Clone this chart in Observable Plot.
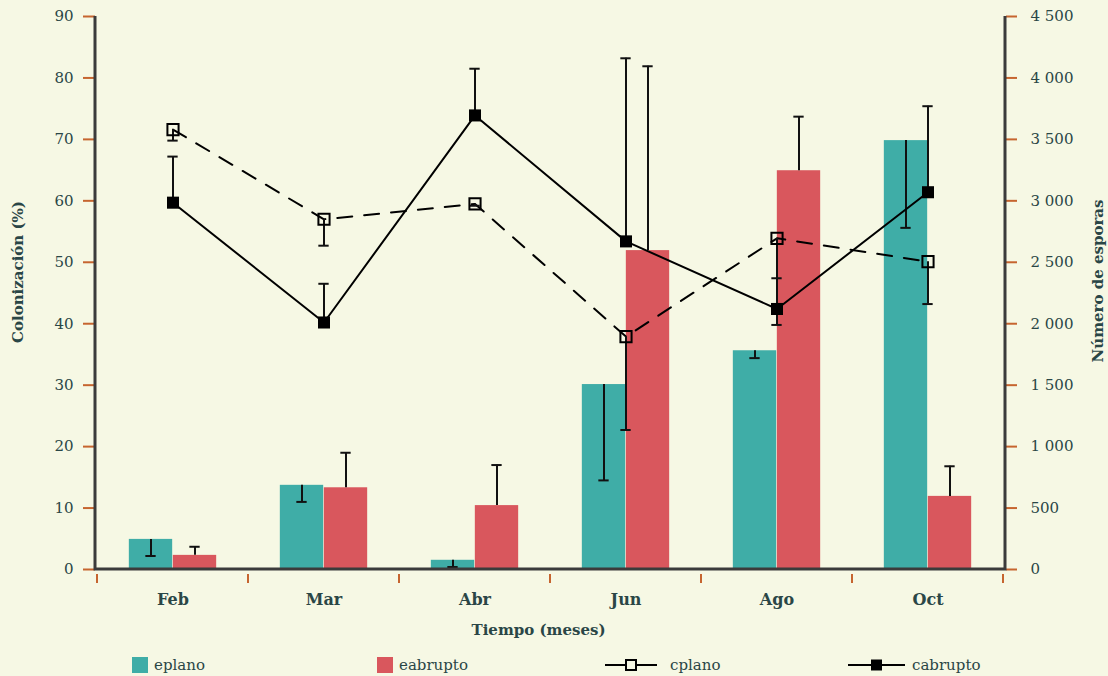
<!DOCTYPE html>
<html>
<head>
<meta charset="utf-8">
<script src="https://cdn.jsdelivr.net/npm/d3@7"></script>
<script src="https://cdn.jsdelivr.net/npm/@observablehq/plot@0.6"></script>
<style>
  html, body { margin: 0; padding: 0; background: #f6f8e4; }
  body { width: 1108px; height: 676px; overflow: hidden; font-family: "DejaVu Serif", serif; color: #2a4646; }
  #chart svg { display: block; }
  #legend { position: relative; height: 31px; font-size: 15px; color: #2a4646; }
  #legend .item { position: absolute; top: 9px; display: flex; align-items: center; height: 22px; }
  #legend .sw { width: 16px; height: 16px; margin-right: 6px; }
</style>
</head>
<body>
<div id="chart"></div>
<div id="legend"></div>
<script>
// ---- data ----
const months = ["Feb", "Mar", "Abr", "Jun", "Ago", "Oct"];
// Número de esporas (right axis)
const eplano      = [245, 685, 75, 1505, 1780, 3490];
const eplanoErr   = [135, 135, 55, 780, 60, 710];
const eabrupto    = [115, 665, 520, 2595, 3245, 595];
const eabruptoErr = [70, 285, 330, 1500, 440, 245];
// Colonización % (left axis)
const cplano      = [71.6, 57.0, 59.5, 37.9, 53.9, 50.1];
const cplanoErr   = [1.8, 4.3, 0.3, 15.2, 14.1, 6.9];
const cabrupto    = [59.7, 40.2, 73.9, 53.4, 42.4, 61.4];
const cabruptoErr = [7.5, 6.3, 7.6, 29.8, 5.0, 14.0];
// axes
const leftTicks = [0, 10, 20, 30, 40, 50, 60, 70, 80, 90];
const rightTicks = [0, 500, 1000, 1500, 2000, 2500, 3000, 3500, 4000, 4500];
const rightTickLabels = ["0", "500", "1 000", "1 500", "2 000", "2 500", "3 000", "3 500", "4 000", "4 500"];
const seriesNames = ["eplano", "eabrupto", "cplano", "cabrupto"];

// ---- build ----
const ratio = rightTicks[rightTicks.length - 1] / leftTicks[leftTicks.length - 1];
const rows = months.map((m, i) => ({
  month: m,
  eplano: eplano[i], eplanoErr: eplanoErr[i],
  eabrupto: eabrupto[i], eabruptoErr: eabruptoErr[i],
  cplano: cplano[i], cplanoErr: cplanoErr[i],
  cabrupto: cabrupto[i], cabruptoErr: cabruptoErr[i]
}));

const W = 1108, H = 645, mL = 95, mR = 103, mT = 16, mB = 76;
const bw = (W - mL - mR) / months.length;
const barW = 44, capW = 11;
const teal = "#3fada7", red = "#d9575d", orange = "#c6652f", axisCol = "#3b3b3b", ink = "#111111", txt = "#2a4646";
const font = "DejaVu Serif, serif";

function frameLines(index, scales, values, dims) {
  const g = d3.create("svg:g");
  const x0 = dims.marginLeft, x1 = dims.width - dims.marginRight;
  const y0 = dims.marginTop, y1 = dims.height - dims.marginBottom;
  // bottom boundary ticks
  const xs = months.map(m => scales.x(m)).concat([scales.x(months[months.length - 1]) + scales.x.bandwidth()]);
  g.selectAll("line.bt").data(xs).join("line")
    .attr("x1", d => d).attr("x2", d => d)
    .attr("y1", y1 + 5).attr("y2", y1 + 14)
    .attr("stroke", orange).attr("stroke-width", 2);
  g.append("path")
    .attr("d", `M${x0},${y0}V${y1}H${x1}V${y0}`)
    .attr("fill", "none").attr("stroke", axisCol).attr("stroke-width", 3);
  return g.node();
}

const chart = Plot.plot({
  width: W, height: H,
  marginLeft: mL, marginRight: mR, marginTop: mT, marginBottom: mB,
  style: { background: "transparent", fontFamily: font, fontSize: "15px", color: txt, overflow: "visible" },
  x: { type: "band", domain: months, padding: 0, axis: null },
  y: { domain: [0, 90], axis: null },
  marks: [
    // bars (esporas)
    Plot.barY(rows, { x: "month", y: d => d.eplano / ratio, fill: teal, insetLeft: bw / 2 - barW, insetRight: bw / 2 }),
    Plot.barY(rows, { x: "month", y: d => d.eabrupto / ratio, fill: red, insetLeft: bw / 2, insetRight: bw / 2 - barW }),
    // bar error bars
    Plot.ruleX(rows, { x: "month", y1: d => d.eplano / ratio, y2: d => (d.eplano - d.eplanoErr) / ratio, dx: -barW / 2, stroke: ink, strokeWidth: 2 }),
    Plot.tickY(rows, { x: "month", y: d => (d.eplano - d.eplanoErr) / ratio, dx: -barW / 2, insetLeft: bw / 2 - capW / 2, insetRight: bw / 2 - capW / 2, stroke: ink, strokeWidth: 2 }),
    Plot.ruleX(rows, { x: "month", y1: d => d.eabrupto / ratio, y2: d => (d.eabrupto + d.eabruptoErr) / ratio, dx: barW / 2, stroke: ink, strokeWidth: 2 }),
    Plot.tickY(rows, { x: "month", y: d => (d.eabrupto + d.eabruptoErr) / ratio, dx: barW / 2, insetLeft: bw / 2 - capW / 2, insetRight: bw / 2 - capW / 2, stroke: ink, strokeWidth: 2 }),
    // lines (colonización)
    Plot.line(rows, { x: "month", y: "cplano", stroke: "#000", strokeWidth: 2, strokeDasharray: "15,12" }),
    Plot.line(rows, { x: "month", y: "cabrupto", stroke: "#000", strokeWidth: 2 }),
    // line error bars
    Plot.ruleX(rows, { x: "month", y1: "cplano", y2: d => d.cplano - d.cplanoErr, stroke: ink, strokeWidth: 2 }),
    Plot.tickY(rows, { x: "month", y: d => d.cplano - d.cplanoErr, insetLeft: bw / 2 - capW / 2, insetRight: bw / 2 - capW / 2, stroke: ink, strokeWidth: 2 }),
    Plot.ruleX(rows, { x: "month", y1: "cabrupto", y2: d => d.cabrupto + d.cabruptoErr, stroke: ink, strokeWidth: 2 }),
    Plot.tickY(rows, { x: "month", y: d => d.cabrupto + d.cabruptoErr, insetLeft: bw / 2 - capW / 2, insetRight: bw / 2 - capW / 2, stroke: ink, strokeWidth: 2 }),
    // markers
    Plot.dot(rows, { x: "month", y: "cplano", symbol: "square", r: 6.3, fill: "none", stroke: "#000", strokeWidth: 2 }),
    Plot.dot(rows, { x: "month", y: "cabrupto", symbol: "square", r: 6.8, fill: "#000", stroke: "none" }),
    // axes
    Plot.axisY(leftTicks, { anchor: "left", tickSize: 12, tickPadding: 10, stroke: orange, strokeWidth: 2, fill: txt, fontSize: 15 }),
    Plot.axisY(rightTicks.map(d => d / ratio), {
      anchor: "right", tickSize: 11, tickPadding: 14, stroke: orange, strokeWidth: 2, fill: txt, fontSize: 15,
      textAnchor: "start",
      tickFormat: d => rightTickLabels[rightTicks.indexOf(Math.round(d * ratio))]
    }),
    Plot.axisX({ anchor: "bottom", tickSize: 0, tickPadding: 24, fontWeight: "bold", fontSize: 16, fill: txt, label: null }),
    frameLines,
    // axis titles
    Plot.text(["Tiempo (meses)"], { frameAnchor: "bottom", textAnchor: "middle", dy: 65, dx: -12, fontWeight: "bold", fontSize: 15, fill: txt }),
    Plot.text(["Colonización (%)"], { frameAnchor: "left", textAnchor: "middle", rotate: -90, dx: -77, dy: -21, fontWeight: "bold", fontSize: 15, fill: txt }),
    Plot.text(["Número de esporas"], { frameAnchor: "right", textAnchor: "middle", rotate: -90, dx: 93, dy: -12, fontWeight: "bold", fontSize: 15, fill: txt })
  ]
});
document.getElementById("chart").appendChild(chart);

// legend
const legend = document.getElementById("legend");
const lefts = [132, 377, 605, 848];
seriesNames.forEach((name, i) => {
  const item = document.createElement("div");
  item.className = "item";
  item.style.left = lefts[i] + "px";
  if (i < 2) {
    const sw = document.createElement("span");
    sw.className = "sw";
    sw.style.background = i === 0 ? teal : red;
    item.appendChild(sw);
  } else {
    const ns = "http://www.w3.org/2000/svg";
    const s = document.createElementNS(ns, "svg");
    const w = i === 2 ? 52 : 57;
    s.setAttribute("width", w); s.setAttribute("height", 16);
    s.style.marginRight = i === 2 ? "13px" : "7px";
    const ln = document.createElementNS(ns, "line");
    ln.setAttribute("x1", 0); ln.setAttribute("x2", w); ln.setAttribute("y1", 8); ln.setAttribute("y2", 8);
    ln.setAttribute("stroke", "#000"); ln.setAttribute("stroke-width", 2);
    s.appendChild(ln);
    const r = document.createElementNS(ns, "rect");
    const side = i === 2 ? 10 : 11;
    r.setAttribute("x", w / 2 - side / 2); r.setAttribute("y", 8 - side / 2);
    r.setAttribute("width", side); r.setAttribute("height", side);
    r.setAttribute("fill", i === 2 ? "#f6f8e4" : "#000");
    r.setAttribute("stroke", "#000"); r.setAttribute("stroke-width", i === 2 ? 2 : 0);
    s.appendChild(r);
    item.appendChild(s);
  }
  const t = document.createElement("span");
  t.textContent = name;
  item.appendChild(t);
  legend.appendChild(item);
});
</script>
</body>
</html>
